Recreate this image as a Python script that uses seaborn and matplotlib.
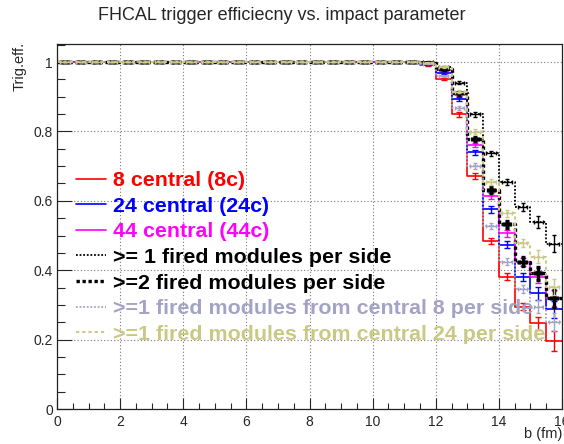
import numpy as np
import matplotlib
matplotlib.use("Agg")
import matplotlib.pyplot as plt
from matplotlib.ticker import MultipleLocator, FuncFormatter
import seaborn as sns

# impact parameter bins (fm), width 0.5
b_edges = [0.0, 0.5, 1.0, 1.5, 2.0, 2.5, 3.0, 3.5, 4.0, 4.5, 5.0, 5.5, 6.0, 6.5, 7.0, 7.5,
           8.0, 8.5, 9.0, 9.5, 10.0, 10.5, 11.0, 11.5, 12.0, 12.5, 13.0, 13.5, 14.0, 14.5,
           15.0, 15.5, 16.0]

# trigger efficiency per bin for each trigger condition
eff_8c = [1.0, 1.0, 1.0, 1.0, 1.0, 1.0, 1.0, 1.0, 1.0, 1.0, 1.0, 1.0, 1.0, 1.0, 1.0, 1.0,
          1.0, 1.0, 1.0, 1.0, 1.0, 1.0, 1.0, 0.992,
          0.951, 0.849, 0.672, 0.484, 0.381, 0.295, 0.247, 0.196]
eff_24c = [1.0, 1.0, 1.0, 1.0, 1.0, 1.0, 1.0, 1.0, 1.0, 1.0, 1.0, 1.0, 1.0, 1.0, 1.0, 1.0,
           1.0, 1.0, 1.0, 1.0, 1.0, 1.0, 1.0, 0.994,
           0.969, 0.893, 0.740, 0.575, 0.474, 0.381, 0.333, 0.287]
eff_44c = [1.0, 1.0, 1.0, 1.0, 1.0, 1.0, 1.0, 1.0, 1.0, 1.0, 1.0, 1.0, 1.0, 1.0, 1.0, 1.0,
           1.0, 1.0, 1.0, 1.0, 1.0, 1.0, 1.0, 0.996,
           0.977, 0.907, 0.761, 0.614, 0.506, 0.423, 0.381, 0.319]
eff_ge1 = [1.0, 1.0, 1.0, 1.0, 1.0, 1.0, 1.0, 1.0, 1.0, 1.0, 1.0, 1.0, 1.0, 1.0, 1.0, 1.0,
           1.0, 1.0, 1.0, 1.0, 1.0, 1.0, 1.0, 0.999,
           0.987, 0.940, 0.849, 0.737, 0.655, 0.583, 0.540, 0.477]
eff_ge2 = [1.0, 1.0, 1.0, 1.0, 1.0, 1.0, 1.0, 1.0, 1.0, 1.0, 1.0, 1.0, 1.0, 1.0, 1.0, 1.0,
           1.0, 1.0, 1.0, 1.0, 1.0, 1.0, 1.0, 0.998,
           0.981, 0.910, 0.778, 0.631, 0.532, 0.425, 0.391, 0.319]
eff_ge1_c8 = [1.0, 1.0, 1.0, 1.0, 1.0, 1.0, 1.0, 1.0, 1.0, 1.0, 1.0, 1.0, 1.0, 1.0, 1.0, 1.0,
              1.0, 1.0, 1.0, 1.0, 1.0, 1.0, 1.0, 0.995,
              0.960, 0.867, 0.700, 0.528, 0.425, 0.345, 0.295, 0.250]
eff_ge1_c24 = [1.0, 1.0, 1.0, 1.0, 1.0, 1.0, 1.0, 1.0, 1.0, 1.0, 1.0, 1.0, 1.0, 1.0, 1.0, 1.0,
               1.0, 1.0, 1.0, 1.0, 1.0, 1.0, 1.0, 0.998,
               0.985, 0.915, 0.799, 0.655, 0.564, 0.479, 0.439, 0.352]

# statistical uncertainties
err_8c = [0.0] * 23 + [0.002, 0.004, 0.006, 0.008, 0.009, 0.010, 0.011, 0.019, 0.029]
err_24c = [0.0] * 23 + [0.002, 0.003, 0.005, 0.007, 0.009, 0.010, 0.012, 0.018, 0.025]
err_44c = [0.0] * 23 + [0.002, 0.003, 0.005, 0.007, 0.009, 0.010, 0.012, 0.018, 0.024]
err_ge1 = [0.0] * 23 + [0.001, 0.002, 0.004, 0.006, 0.008, 0.009, 0.011, 0.017, 0.024]
err_ge2 = [0.0] * 23 + [0.001, 0.003, 0.005, 0.007, 0.009, 0.010, 0.012, 0.018, 0.024]
err_ge1_c8 = [0.0] * 23 + [0.002, 0.004, 0.006, 0.008, 0.009, 0.010, 0.011, 0.018, 0.026]
err_ge1_c24 = [0.0] * 23 + [0.001, 0.003, 0.005, 0.007, 0.009, 0.010, 0.012, 0.018, 0.024]

labels = ["8 central (8c)", "24 central (24c)", "44 central (44c)",
          ">= 1 fired modules per side", ">=2 fired modules per side",
          ">=1 fired modules from central 8 per side",
          ">=1 fired modules from central 24 per side"]

sns.set_style("white")
plt.rcParams["font.family"] = ["Liberation Sans", "DejaVu Sans"]

fig = plt.figure(figsize=(5.64, 4.44), dpi=100)
ax = fig.add_axes([57 / 564, 35 / 444, 505 / 564, 365 / 444])

edges = np.array(b_edges)
centers = 0.5 * (edges[:-1] + edges[1:])

series = [
    (eff_8c, err_8c, dict(color="#ff0000", ls="-", lw=1.2), dict(lw=1.0, capsize=2.0, xerr=None)),
    (eff_24c, err_24c, dict(color="#0000ff", ls="-", lw=1.2), dict(lw=1.0, capsize=2.0, xerr=None)),
    (eff_44c, err_44c, dict(color="#ff00ff", ls="-", lw=1.2), dict(lw=1.0, capsize=2.0, xerr=None)),
    (eff_ge1, err_ge1, dict(color="black", ls=(0, (1, 1)), lw=1.3), dict(lw=1.0, capsize=1.5, xerr=0.15)),
    (eff_ge2, err_ge2, dict(color="black", ls=(0, (1, 0.8)), lw=2.4), dict(lw=2.4, capsize=1.5, xerr=0.1)),
    (eff_ge1_c8, err_ge1_c8, dict(color="#a3a3c6", ls=(0, (1, 1)), lw=1.3), dict(lw=1.0, capsize=1.5, xerr=0.15)),
    (eff_ge1_c24, err_ge1_c24, dict(color="#c9c983", ls=(0, (1.5, 1.5)), lw=1.5), dict(lw=1.0, capsize=1.5, xerr=0.15)),
]

handles = []
for vals, errs, lstyle, estyle in series:
    y_steps = list(vals) + [vals[-1]]
    sns.lineplot(x=edges, y=y_steps, drawstyle="steps-post", estimator=None, sort=False,
                 ax=ax, color=lstyle["color"], linestyle=lstyle["ls"], linewidth=lstyle["lw"],
                 legend=False)
    handles.append(ax.lines[-1])
    ax.errorbar(centers, vals, yerr=errs, xerr=estyle["xerr"], fmt="none",
                ecolor=lstyle["color"], elinewidth=estyle["lw"], capsize=estyle["capsize"],
                capthick=estyle["lw"])

ax.set_xlim(0, 16)
ax.set_ylim(0, 1.052)
ax.xaxis.set_major_locator(MultipleLocator(2))
ax.xaxis.set_minor_locator(MultipleLocator(0.5))
ax.yaxis.set_major_locator(MultipleLocator(0.2))
ax.yaxis.set_minor_locator(MultipleLocator(0.05))
ax.yaxis.set_major_formatter(FuncFormatter(lambda v, p: f"{v:g}"))
ax.xaxis.set_major_formatter(FuncFormatter(lambda v, p: f"{v:g}"))

ax.grid(True, which="major", color="#777777", linestyle=(0, (1, 2)), linewidth=0.8)
ax.set_axisbelow(True)

ax.tick_params(axis="x", which="major", direction="in", length=8, width=0.8,
               labelsize=10, pad=4, bottom=True, top=False)
ax.tick_params(axis="x", which="minor", direction="in", length=4, width=0.8,
               bottom=True, top=False)
ax.tick_params(axis="y", which="major", direction="in", length=10.5, width=0.8,
               labelsize=10, pad=3, left=True, right=False)
ax.tick_params(axis="y", which="minor", direction="in", length=5.5, width=0.8,
               left=True, right=False)
for sp in ax.spines.values():
    sp.set_color("#222222")
    sp.set_linewidth(0.9)
    sp.set_visible(True)
ax.set_xlabel("")
ax.set_ylabel("")

fig.text(0.5, 1 - 15 / 444, "FHCAL trigger efficiecny vs. impact parameter",
         ha="center", va="center", fontsize=13)
fig.text(20 / 564, 1 - 42 / 444, "Trig.eff.", rotation=90, ha="center", va="top",
         fontsize=10.5)
fig.text(562 / 564, 1 - 434 / 444, "b (fm)", ha="right", va="center", fontsize=10.5)

leg = ax.legend(handles, labels, loc="upper left",
                bbox_to_anchor=(76 / 564, 1 - 171 / 444), bbox_transform=fig.transFigure,
                frameon=False, borderpad=0, borderaxespad=0,
                handlelength=1.4, handletextpad=0.33, labelspacing=0.31,
                prop={"weight": "bold", "size": 15.4}, labelcolor="linecolor")

fig.savefig("out.png", dpi=100)
